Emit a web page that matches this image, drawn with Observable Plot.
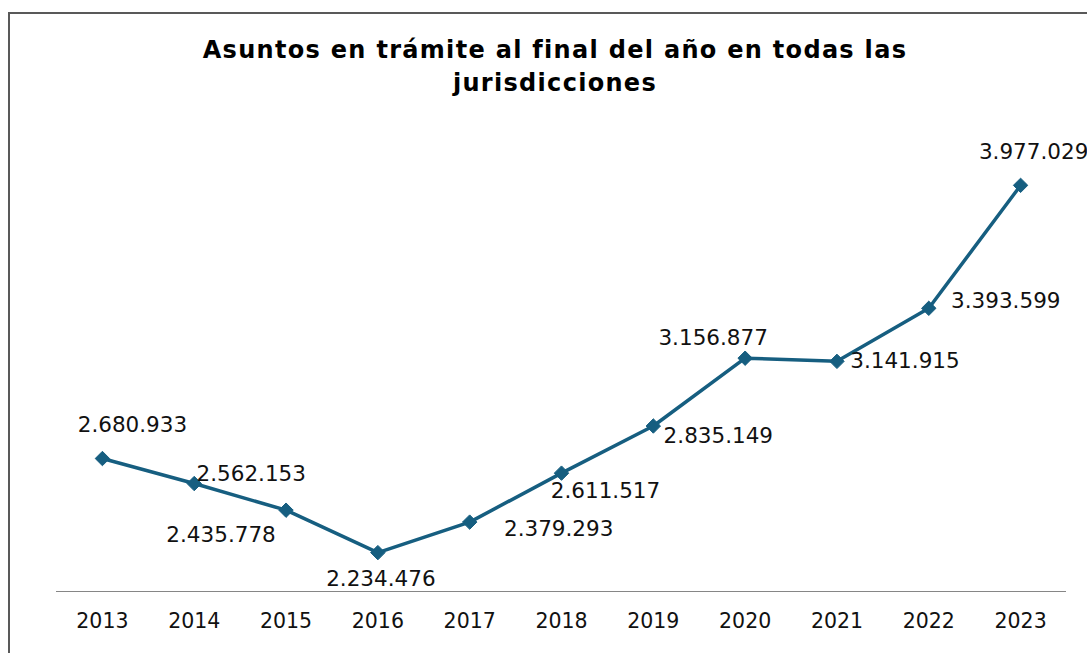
<!DOCTYPE html>
<html>
<head>
<meta charset="utf-8">
<script src="https://cdn.jsdelivr.net/npm/d3@7"></script>
<script src="https://cdn.jsdelivr.net/npm/@observablehq/plot@0.6"></script>
<style>
  html, body { margin: 0; padding: 0; background: #fff; overflow: hidden; width: 1087px; height: 653px; }
  #title { position: absolute; top: 34px; left: 0; width: 1110px; text-align: center;
    font-family: "DejaVu Sans", Verdana, sans-serif; font-weight: bold; font-size: 24px;
    letter-spacing: 1.3px; line-height: 33px; color: #000; }
  #chart { position: absolute; top: 100px; left: 0; }
  #frame { position: absolute; top: 12px; left: 8px; width: 1200px; height: 800px;
    border: 2px solid #595959; pointer-events: none; z-index: 2; }
</style>
</head>
<body>
<div id="title">Asuntos en trámite al final del año en todas las<br>jurisdicciones</div>
<div id="chart"></div>
<div id="frame"></div>
<script>
const years = ["2013","2014","2015","2016","2017","2018","2019","2020","2021","2022","2023"];
const asuntos = [2680933, 2562153, 2435778, 2234476, 2379293, 2611517, 2835149, 3156877, 3141915, 3393599, 3977029];
// label placement offsets (dx, dy) relative to each point
const labelDx = [30, 57, -65, 3, 89, 44, 65, -32, 68, 77, 13];
const labelDy = [-33, -9, 25, 26, 7, 18, 10, -20, 0, -7, -33];

const data = years.map((y, i) => ({year: y, value: asuntos[i]}));
const fmt = v => d3.format(",")(v).replace(/,/g, ".");
const color = "#165e80";
const font = "DejaVu Sans, Verdana, sans-serif";

const labelMarks = data.map((d, i) => Plot.text([d], {
  x: "year", y: "value", text: d => fmt(d.value),
  dx: labelDx[i], dy: labelDy[i], fontSize: 21.5, fill: "#111", textAnchor: "middle"
}));

const chart = Plot.plot({
  width: 1087,
  height: 553,
  marginLeft: 56,
  marginRight: 21,
  marginTop: 80,
  marginBottom: 62,
  style: {fontFamily: font, background: "transparent", overflow: "visible"},
  x: {type: "point", domain: years, padding: 0.5, round: false},
  y: {domain: [2050000, 4000000], axis: null},
  marks: [
    Plot.ruleY([2050000], {stroke: "#868686", strokeWidth: 1.2}),
    Plot.axisX({tickSize: 0, tickPadding: 22, fontSize: 20.5, fill: "#111", label: null}),
    Plot.line(data, {x: "year", y: "value", stroke: color, strokeWidth: 3.5}),
    Plot.dot(data, {x: "year", y: "value", symbol: "diamond2", r: 6.5, fill: color, stroke: color, strokeWidth: 1}),
    ...labelMarks
  ]
});
document.getElementById("chart").appendChild(chart);
</script>
</body>
</html>
